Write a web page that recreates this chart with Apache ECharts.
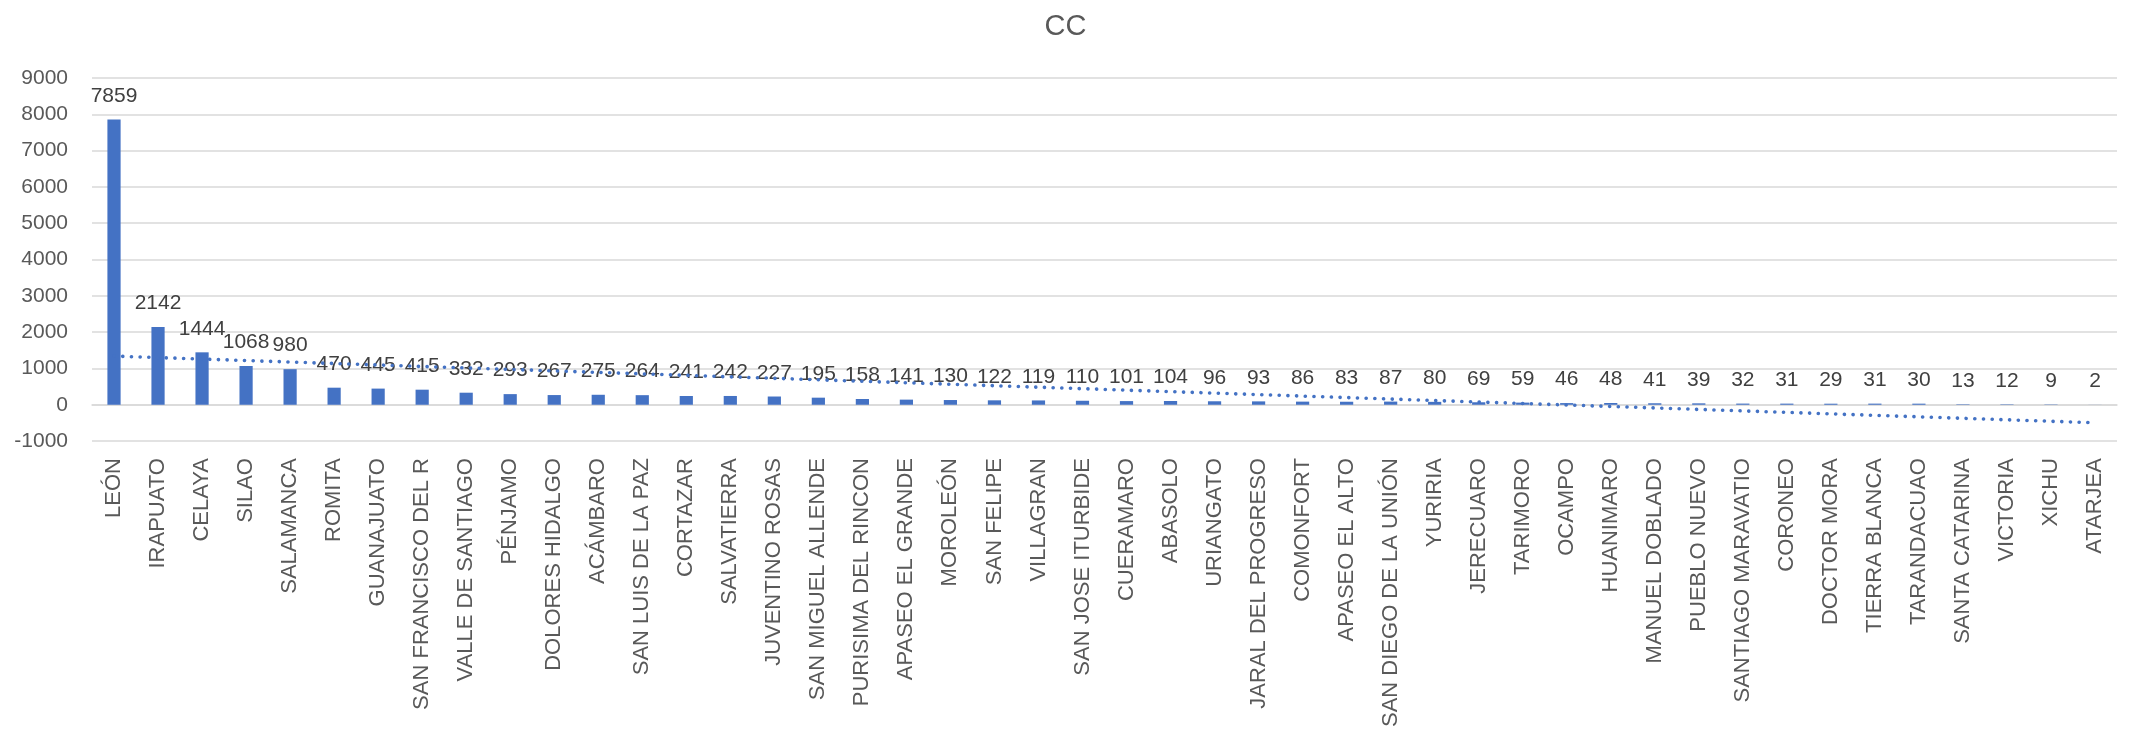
<!DOCTYPE html>
<html>
<head>
<meta charset="utf-8">
<script src="https://cdn.jsdelivr.net/npm/echarts@6/dist/echarts.min.js"></script>
<style>
html,body{margin:0;padding:0;background:#fff;}
#chart{width:2131px;height:730px;}
</style>
</head>
<body>
<div id="chart"></div>
<script>
const categories = ["LEÓN","IRAPUATO","CELAYA","SILAO","SALAMANCA","ROMITA","GUANAJUATO","SAN FRANCISCO DEL R","VALLE DE SANTIAGO","PÉNJAMO","DOLORES HIDALGO","ACÁMBARO","SAN LUIS DE LA PAZ","CORTAZAR","SALVATIERRA","JUVENTINO ROSAS","SAN MIGUEL ALLENDE","PURISIMA DEL RINCON","APASEO EL GRANDE","MOROLEÓN","SAN FELIPE","VILLAGRAN","SAN JOSE ITURBIDE","CUERAMARO","ABASOLO","URIANGATO","JARAL DEL PROGRESO","COMONFORT","APASEO EL ALTO","SAN DIEGO DE LA UNIÓN","YURIRIA","JERECUARO","TARIMORO","OCAMPO","HUANIMARO","MANUEL DOBLADO","PUEBLO NUEVO","SANTIAGO MARAVATIO","CORONEO","DOCTOR MORA","TIERRA BLANCA","TARANDACUAO","SANTA CATARINA","VICTORIA","XICHU","ATARJEA"];
const values = [7859,2142,1444,1068,980,470,445,415,332,293,267,275,264,241,242,227,195,158,141,130,122,119,110,101,104,96,93,86,83,87,80,69,59,46,48,41,39,32,31,29,31,30,13,12,9,2];
// Linear trendline endpoints (first and last category)
const trendEnds = [1340, -496];
const yTicks = {min: -1000, max: 9000, interval: 1000};

const chart = echarts.init(document.getElementById('chart'));
const font = 'Liberation Sans';
chart.setOption({
  animation: false,
  backgroundColor: '#ffffff',
  title: {
    text: 'CC', left: 'center', top: 7,
    textStyle: {fontFamily: font, fontSize: 29, fontWeight: 'normal', color: '#595959'}
  },
  grid: {left: 92, right: 14, top: 78, bottom: 249, containLabel: false},
  xAxis: {
    type: 'category', data: categories,
    axisLine: {show: true, onZero: true, lineStyle: {color: '#d9d9d9', width: 1.5}},
    axisTick: {show: false},
    axisLabel: {rotate: 90, interval: 0, margin: 17, fontFamily: font, fontSize: 22, color: '#595959'}
  },
  yAxis: {
    type: 'value', min: yTicks.min, max: yTicks.max, interval: yTicks.interval,
    axisLine: {show: false}, axisTick: {show: false},
    axisLabel: {margin: 24, fontFamily: font, fontSize: 21, color: '#595959', formatter: v => String(v)},
    splitLine: {lineStyle: {color: '#d9d9d9', width: 1.5}}
  },
  series: [
    {
      type: 'bar', data: values, barWidth: '30%',
      itemStyle: {color: '#4472C4'},
      label: {show: true, position: 'top', distance: 13, fontFamily: font, fontSize: 21, color: '#404040'},
      z: 2
    },
    {
      type: 'line',
      data: [[0, trendEnds[0]], [categories.length - 1, trendEnds[1]]],
      showSymbol: false, symbol: 'none',
      lineStyle: {color: '#4472C4', width: 3.6, type: [0.1, 8.6], cap: 'round'},
      z: 3, silent: true
    }
  ]
});
</script>
</body>
</html>
